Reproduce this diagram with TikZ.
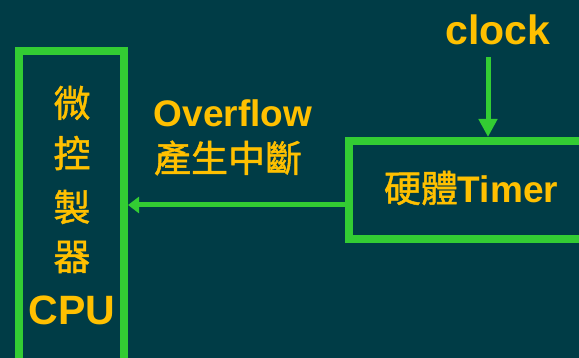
\documentclass[tikz,border=0pt]{standalone}
\usepackage{fontspec}
\setmainfont{Liberation Sans}
\newfontfamily\cjk[FakeBold=1.3]{Noto Sans CJK TC}
\usetikzlibrary{arrows.meta}
\definecolor{bgc}{RGB}{0,60,70}
\definecolor{ylw}{RGB}{255,192,0}
\definecolor{grn}{RGB}{51,204,51}
\tikzset{
  boxn/.style={draw=grn, line width=8pt, inner sep=0pt},
  lbl/.style={text=ylw, font=\fontsize{37}{40}\selectfont\bfseries, inner sep=0pt},
  cjkl/.style={text=ylw, font=\fontsize{37}{40}\selectfont\cjk\mdseries, inner sep=0pt},
  conn/.style={draw=grn, line width=5pt}
}
\begin{document}
\begin{tikzpicture}[x=1pt,y=-1pt]
\fill[bgc] (0,0) rectangle (579,358);
\useasboundingbox (0,0) rectangle (579,358);
\clip (0,0) rectangle (579,358);
\node[boxn, minimum width=105pt, minimum height=314pt] (cpu) at (71.5,208) {};
\node[boxn, minimum width=271pt, minimum height=98pt] (timer) at (484.5,190) {};
\node[cjkl] (c1) at (72,103) {微};
\node[cjkl] (c2) at (72,153) {控};
\node[cjkl] (c3) at (72,207) {製};
\node[cjkl] (c4) at (72,257) {器};
\node[lbl, font=\fontsize{41}{44}\selectfont\bfseries] (c5) at (72,310) {CPU};
\node[lbl] (ovf) at (233,113) {Overflow};
\node[cjkl] (int) at (228,158) {產生中斷};
\node[lbl] (tt) at (471,188) {{\cjk\mdseries 硬體}Timer};
\node[lbl, font=\fontsize{41}{44}\selectfont\bfseries] (clk) at (498,30) {clock};
\coordinate (clkstart) at (488,57);
\draw[conn, -{Triangle[length=18pt,width=18pt]}] (clkstart) -- (clkstart |- timer.north);
\coordinate (arry) at (0,205);
\draw[conn, -{Triangle[length=11pt,width=16pt]}] (timer.west |- arry) -- (cpu.east |- arry);
\end{tikzpicture}
\end{document}
